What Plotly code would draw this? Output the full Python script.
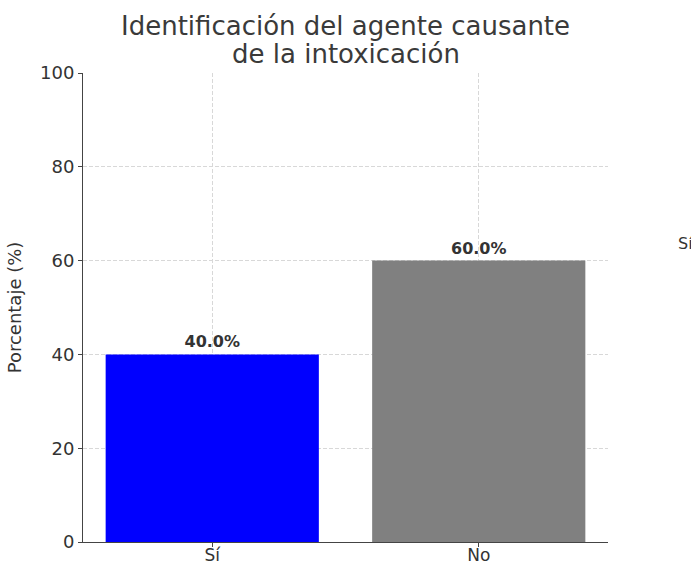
import plotly.graph_objects as go

categorias = ["Sí", "No"]
porcentajes = [40.0, 60.0]
colores = ["#0000ff", "#808080"]
etiquetas = [f"<b>{v:.1f}%</b>" for v in porcentajes]

titulo = ["Identificación del agente causante", "de la intoxicación"]

fig = go.Figure()

fig.add_trace(
    go.Bar(
        x=categorias,
        y=porcentajes,
        width=0.8,
        marker={"color": colores, "line": {"width": 0}},
        text=etiquetas,
        textposition="outside",
        textfont={"size": 16, "color": "#333333"},
        cliponaxis=False,
        showlegend=False,
    )
)

fig.update_layout(
    width=691,
    height=564,
    margin={"t": 73, "b": 22, "l": 83, "r": 83},
    paper_bgcolor="white",
    plot_bgcolor="white",
    font={"family": "DejaVu Sans", "color": "#333333"},
)

grid_opts = {"showgrid": True, "gridcolor": "#d8d8d8", "griddash": "4px,2px", "gridwidth": 1}

fig.update_xaxes(
    range=[-0.485, 1.485],
    automargin=False,
    showline=True,
    linecolor="#444444",
    linewidth=1,
    ticks="outside",
    ticklen=4,
    tickcolor="#444444",
    tickfont={"size": 17, "color": "#333333"},
    ticklabelstandoff=-6,
    layer="above traces",
    **grid_opts,
)

fig.update_yaxes(
    range=[0, 100],
    tickvals=[0, 20, 40, 60, 80, 100],
    automargin=False,
    showline=True,
    linecolor="#444444",
    linewidth=1,
    ticks="outside",
    ticklen=4,
    tickcolor="#444444",
    tickfont={"size": 18, "color": "#333333"},
    zeroline=False,
    layer="above traces",
    title={"text": "Porcentaje (%)", "font": {"size": 18, "color": "#333333"}, "standoff": 13},
    **grid_opts,
)

# título en dos líneas, interlineado apretado
for linea, ypos in zip(titulo, [1.1, 1.04]):
    fig.add_annotation(
        text=linea,
        xref="paper",
        yref="paper",
        x=0.5,
        y=ypos,
        xanchor="center",
        yanchor="middle",
        showarrow=False,
        font={"size": 26, "color": "#3a3a3a"},
    )

# texto de la figura vecina, cortado en el borde
fig.add_annotation(
    text="Sí",
    xref="paper",
    yref="paper",
    x=1.129,
    y=0.6375,
    xanchor="left",
    yanchor="middle",
    showarrow=False,
    font={"size": 16, "color": "#333333"},
)

# sin margen en el body para que la figura llene la ventana
fig.write_html(
    "out.html",
    config={"displayModeBar": False},
    post_script="document.body.style.margin='0';document.body.style.overflow='hidden';",
)
